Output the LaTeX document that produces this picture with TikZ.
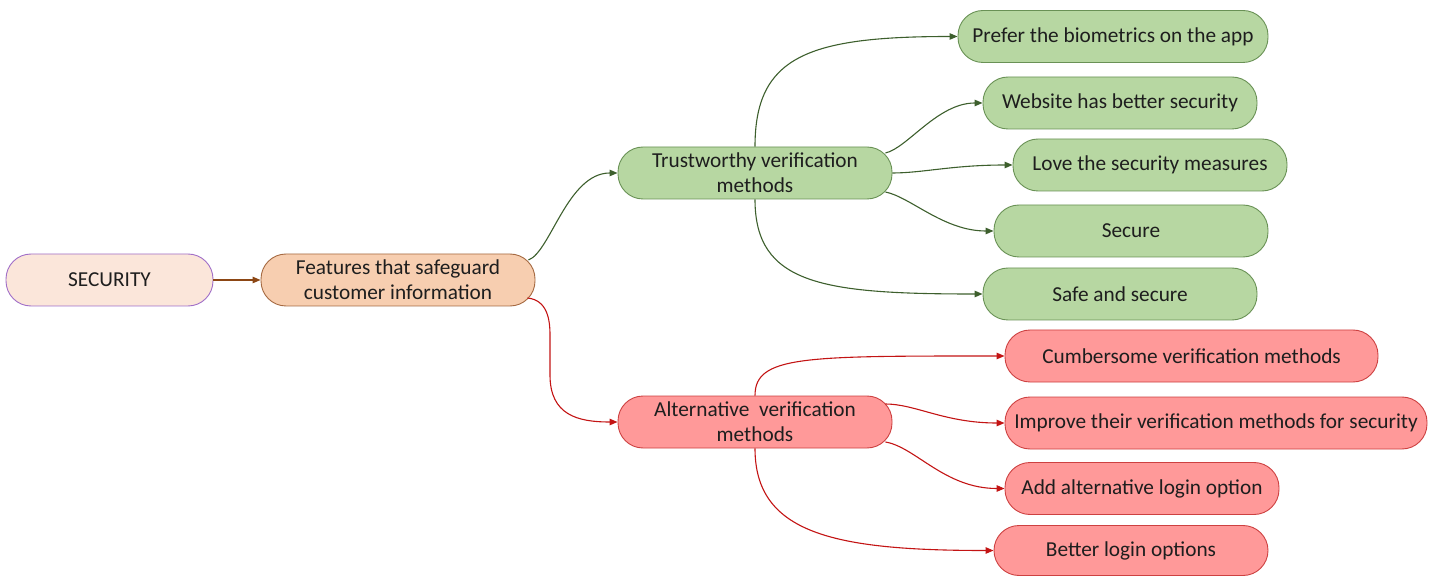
\documentclass[tikz,border=0pt]{standalone}
\usepackage{fontspec}
\setmainfont{Carlito}
\usetikzlibrary{arrows.meta,calc}

\definecolor{secfill}{RGB}{251,230,218}
\definecolor{secline}{RGB}{160,110,200}
\definecolor{featfill}{RGB}{247,206,176}
\definecolor{featline}{RGB}{165,105,65}
\definecolor{brownedge}{RGB}{140,70,20}
\definecolor{gfill}{RGB}{183,215,162}
\definecolor{gline}{RGB}{105,145,85}
\definecolor{gedgec}{RGB}{61,95,45}
\definecolor{rfill}{RGB}{255,153,153}
\definecolor{rline}{RGB}{205,65,65}
\definecolor{redgec}{RGB}{195,20,20}
\definecolor{txt}{RGB}{30,30,30}

\begin{document}
\begin{tikzpicture}[x=1pt,y=-1pt,
  box/.style={draw, rounded corners=25pt, minimum height=52pt, minimum width=274pt,
    inner sep=2pt, align=center, line width=0.9pt, text=txt,
    font=\fontsize{21.3}{25}\selectfont},
  secbox/.style={box, fill=secfill, draw=secline},
  featbox/.style={box, fill=featfill, draw=featline},
  gbox/.style={box, fill=gfill, draw=gline},
  rbox/.style={box, fill=rfill, draw=rline},
  link/.style={line width=1.1pt, -{Triangle[length=8pt,width=6.5pt]}},
  bedge/.style={link, draw=brownedge},
  gedge/.style={link, draw=gedgec},
  redge/.style={link, draw=redgec}]

\useasboundingbox (0,0) rectangle (1438,577);

% root and first level
\node[secbox, minimum width=207pt] (sec) at (109.5,280) {SECURITY};
\node[featbox] (feat) at (398,280) {Features that safeguard\\customer information};

% second level
\node[gbox] (trust) at (755,173) {Trustworthy verification\\methods};
\node[rbox] (alt) at (755,422) {Alternative\ \ verification\\methods};

% positive leaves
\node[gbox, minimum width=310pt] (prefer) at (1113,36.5) {Prefer the biometrics on the app};
\node[gbox] (website) at (1120,103) {Website has better security};
\node[gbox] (love) at (1150,165) {Love the security measures};
\node[gbox] (secure) at (1131,231) {Secure};
\node[gbox] (safe) at (1120,294) {Safe and secure};

% negative leaves
\node[rbox, minimum width=373pt] (cumb) at (1191.5,356) {Cumbersome verification methods};
\node[rbox, minimum width=422pt] (improve) at (1216,423) {Improve their verification methods for security};
\node[rbox] (add) at (1142,488.5) {Add alternative login option};
\node[rbox, minimum height=50pt] (better) at (1131,550.5) {Better login options};

% connectors
\draw[bedge] (sec) -- (feat);
\draw[gedge] ($(feat.east)+(-7,-20)$) .. controls +(22,-8) and +(-50,0) .. (trust.west);
\draw[redge] ($(feat.east)+(-8,18)$) .. controls +(20,2) and +(0,-15) .. (550,335)
  -- (550,375) .. controls +(0,40) and +(-40,0) .. (alt.west);

\draw[gedge] (trust.north) .. controls +(0,-90) and +(-150,0) .. (prefer.west);
\draw[gedge] ($(trust.east)+(-7,-20)$) .. controls +(22,-5) and +(-45,0) .. (website.west);
\draw[gedge] (trust.east) .. controls +(30,0) and +(-60,0) .. (love.west);
\draw[gedge] ($(trust.east)+(-7,19)$) .. controls +(25,5) and +(-50,0) .. (secure.west);
\draw[gedge] (trust.south) .. controls +(0,85) and +(-160,0) .. (safe.west);

\draw[redge] (alt.north) .. controls +(0,-40) and +(-200,0) .. (cumb.west);
\draw[redge] ($(alt.east)+(-7,-18)$) .. controls +(30,0) and +(-60,0) .. (improve.west);
\draw[redge] ($(alt.east)+(-7,20)$) .. controls +(30,5) and +(-60,0) .. (add.west);
\draw[redge] (alt.south) .. controls +(0,85) and +(-160,0) .. (better.west);
\end{tikzpicture}
\end{document}
